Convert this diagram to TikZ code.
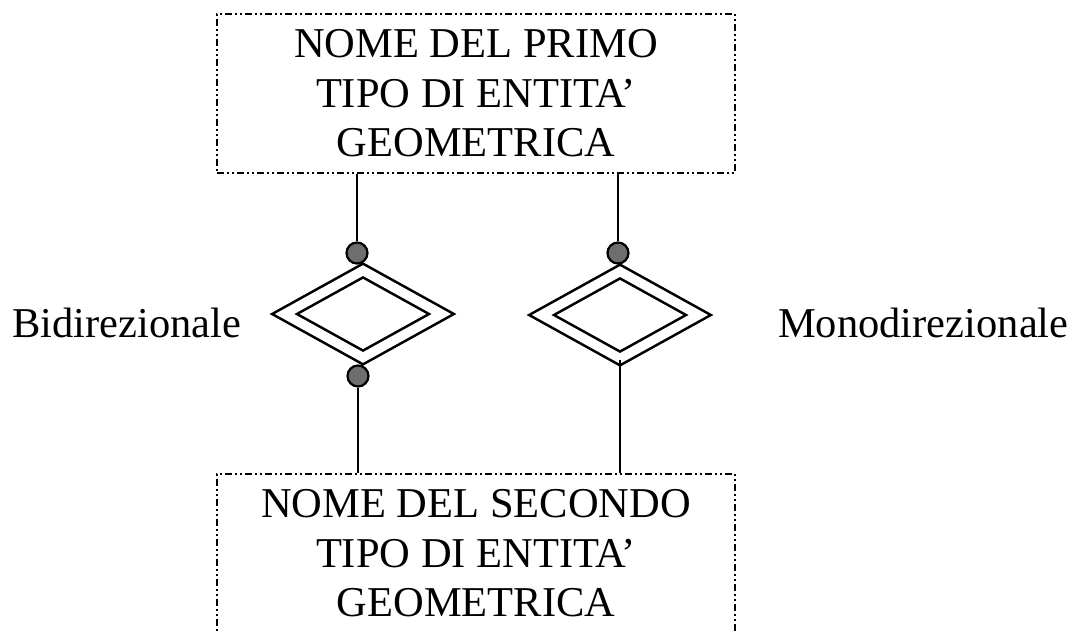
\documentclass[tikz,border=0pt]{standalone}
\usepackage{fontspec}
\setmainfont{Liberation Serif}
\usetikzlibrary{shapes.geometric}

\newcommand\entfont{\fontsize{42.5}{49.5}\selectfont}

\begin{document}
\begin{tikzpicture}[x=1pt,y=-1pt,
    entita/.style={draw, line width=2.3pt,
        dash pattern=on 7pt off 3pt on 2pt off 3pt on 2pt off 3pt,
        minimum width=518pt, minimum height=159pt, inner sep=0pt,
        align=center, font=\entfont},
    relazione/.style={draw, diamond, double, line width=2.6pt,
        double distance=9.3pt, minimum width=158pt, minimum height=88pt,
        inner sep=0pt},
    pallino/.style={draw, circle, fill=black!57, line width=2.2pt,
        minimum size=21pt, inner sep=0pt},
    conn/.style={line width=2.6pt},
    etichetta/.style={font=\entfont, anchor=base west, inner sep=0pt}]

    % Picture frame
    \useasboundingbox (0,0) rectangle (1070,630);
    \clip (0,0) rectangle (1070,630);

    % The two entity boxes
    \node[entita] (primo) at (476,93.5) {NOME DEL PRIMO\\TIPO DI ENTITA'\\GEOMETRICA};
    \node[entita] (secondo) at (476,553.5) {NOME DEL SECONDO\\TIPO DI ENTITA'\\GEOMETRICA};

    % The two relations
    \node[relazione] (bidir) at (363,314) {};
    \node[relazione] (monodir) at (620,315) {};

    % Circles on the relations
    \node[pallino] (bi1) at (357,253) {};
    \node[pallino] (bi2) at (358,376) {};
    \node[pallino] (mo1) at (618,253) {};

    % Connectors
    \draw[conn] (bi1.north) -- (bi1.north |- primo.south);
    \draw[conn] (bi2.south) -- (bi2.south |- secondo.north);
    \draw[conn] (mo1.north) -- (mo1.north |- primo.south);
    \draw[conn] (monodir.south) -- (monodir.south |- secondo.north);

    % Labels
    \node[etichetta] (lbi) at (12,337) {Bidirezionale};
    \node[etichetta] (lmo) at (778,337) {Monodirezionale};

\end{tikzpicture}
\end{document}
